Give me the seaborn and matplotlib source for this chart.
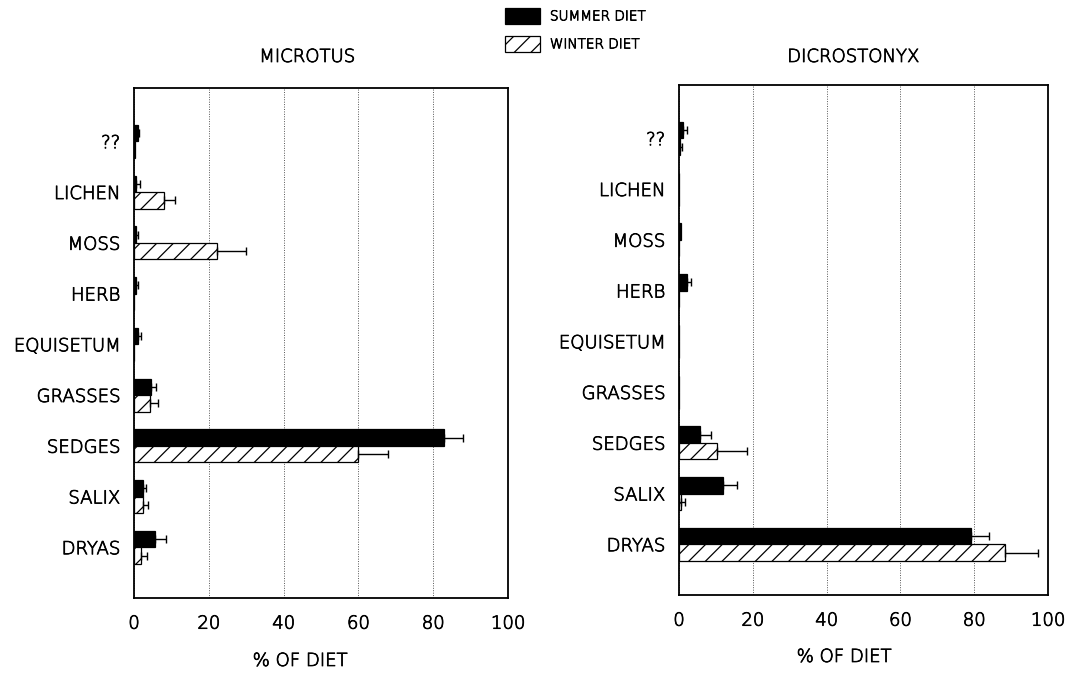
import numpy as np
import pandas as pd
import matplotlib
matplotlib.use("Agg")
import matplotlib.pyplot as plt
import matplotlib.patheffects as pe
from matplotlib.container import BarContainer
import seaborn as sns

# ---- data ----
categories = ["??", "LICHEN", "MOSS", "HERB", "EQUISETUM", "GRASSES", "SEDGES", "SALIX", "DRYAS"]
diets = ["SUMMER DIET", "WINTER DIET"]

microtus_summer = [1.0, 0.5, 0.6, 0.6, 1.0, 4.5, 83.0, 2.3, 5.6]
microtus_summer_err = [0.4, 1.0, 0.4, 0.4, 1.0, 1.5, 4.9, 0.9, 3.0]
microtus_winter = [0.3, 8.1, 22.1, 0.0, 0.0, 4.3, 60.0, 2.5, 1.9]
microtus_winter_err = [0.0, 2.9, 7.9, 0.0, 0.0, 2.0, 7.8, 1.2, 1.5]

dicro_summer = [1.2, 0.0, 0.6, 2.3, 0.0, 0.0, 5.8, 11.8, 79.1]
dicro_summer_err = [1.1, 0.0, 0.0, 1.0, 0.0, 0.0, 2.8, 4.0, 4.8]
dicro_winter = [0.3, 0.0, 0.0, 0.0, 0.0, 0.0, 10.4, 0.6, 88.3]
dicro_winter_err = [0.5, 0.0, 0.0, 0.0, 0.0, 0.0, 8.1, 1.0, 9.1]

x_ticks = [0, 20, 40, 60, 80, 100]

sns.set_theme(style="white")
plt.rcParams["font.family"] = ["DejaVu Sans"]
plt.rcParams["font.weight"] = "light"
plt.rcParams["hatch.linewidth"] = 0.9
plt.rcParams["hatch.color"] = "black"
plt.rcParams["text.color"] = "black"

W, H = 1072, 673
fig = plt.figure(figsize=(W / 100, H / 100), dpi=100)
fig.patch.set_facecolor("white")

thin_black = [pe.withStroke(linewidth=0.55, foreground="black")]


def frac_axes(x0, x1, y0, y1):
    return fig.add_axes([x0 / W, 1 - y1 / H, (x1 - x0) / W, (y1 - y0) / H])


ax1 = frac_axes(134, 508, 88, 598)
ax2 = frac_axes(679, 1048, 85, 595)

palette = {"SUMMER DIET": "black", "WINTER DIET": "white"}


def draw(ax, summer, summer_err, winter, winter_err):
    df = pd.DataFrame({
        "category": categories * 2,
        "diet": [diets[0]] * len(categories) + [diets[1]] * len(categories),
        "value": list(summer) + list(winter),
    })
    sns.barplot(data=df, x="value", y="category", hue="diet", order=categories,
                hue_order=diets, palette=palette, orient="h", width=0.65,
                saturation=1, edgecolor="black", linewidth=0.9, errorbar=None,
                legend=False, ax=ax)
    errs = [summer_err, winter_err]
    bar_conts = [c for c in ax.containers if isinstance(c, BarContainer)]
    for i, cont in enumerate(bar_conts):
        ys, xs, es = [], [], []
        for j, p in enumerate(cont.patches):
            if i == 1:
                p.set_hatch("//")
            if errs[i][j] > 0:
                ys.append(p.get_y() + p.get_height() / 2)
                xs.append(p.get_x() + p.get_width())
                es.append(errs[i][j])
        if xs:
            ax.errorbar(xs, ys, xerr=[np.zeros(len(es)), es], fmt="none",
                        ecolor="black", elinewidth=1.0, capsize=3.0, capthick=1.0)
    ax.set_xlim(0, 100)
    ax.set_ylim(9.0, -1.05)
    ax.set_xticks(x_ticks)
    ax.set_xticklabels([str(t) for t in x_ticks])
    ax.set_xlabel("")
    ax.set_ylabel("")
    ax.grid(axis="x", linestyle=(0, (1, 1.5)), color="#555555", linewidth=0.7)
    ax.grid(axis="y", visible=False)
    ax.set_axisbelow(True)
    ax.tick_params(axis="both", length=0, labelsize=13, colors="black")
    ax.tick_params(axis="x", pad=12)
    ax.tick_params(axis="y", pad=10)
    for s in ax.spines.values():
        s.set_visible(True)
        s.set_color("black")
        s.set_linewidth(1.3)
    for t in ax.get_xticklabels() + ax.get_yticklabels():
        t.set_path_effects(thin_black)
    return bar_conts


b1 = draw(ax1, microtus_summer, microtus_summer_err, microtus_winter, microtus_winter_err)
draw(ax2, dicro_summer, dicro_summer_err, dicro_winter, dicro_winter_err)

for (x, y, s) in [(307, 57, "MICROTUS"), (853, 57, "DICROSTONYX"),
                  (300, 661, "% OF DIET"), (844, 657, "% OF DIET")]:
    fig.text(x / W, 1 - y / H, s, ha="center", va="center", fontsize=13,
             path_effects=thin_black)

# legend from the bars of the first panel
handles = [b1[0].patches[6], b1[1].patches[6]]
leg = fig.legend(handles, diets, loc="upper left", bbox_to_anchor=(505 / W, 1 - 8 / H),
                 frameon=False, fontsize=9.8, handlelength=2.6, handleheight=1.4,
                 handletextpad=0.7, labelspacing=0.9, borderpad=0, borderaxespad=0)
for t in leg.get_texts():
    t.set_path_effects(thin_black)

fig.savefig("out.png", dpi=100, facecolor="white")
